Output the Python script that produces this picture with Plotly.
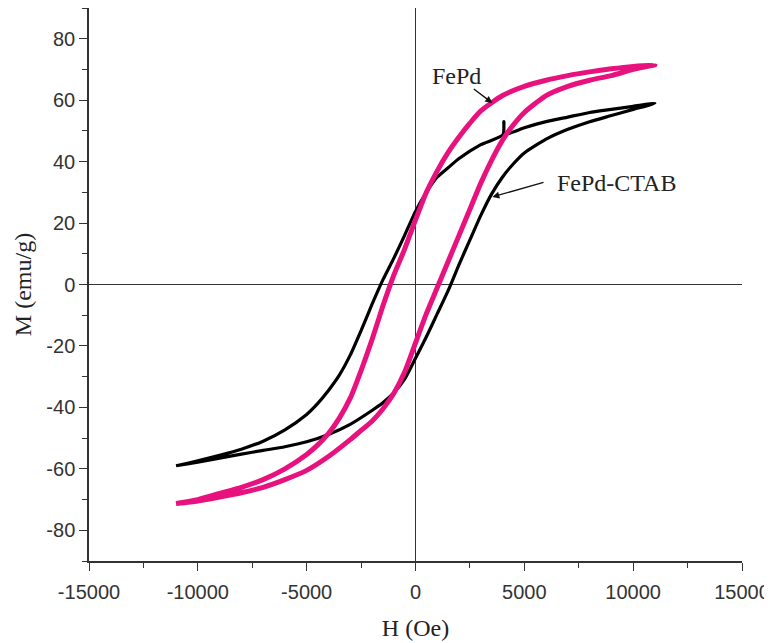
import plotly.graph_objects as go

# ---------------- data ----------------
# FePd (pink) - descending branch, H from +11000 to -11000
fepd_desc_H = [11000, 10000, 9000, 8000, 7000, 6000, 5000, 4000, 3000, 2500, 2000, 1500,
               1000, 500, 0, -500, -1000, -1500, -2000, -2500, -3000, -3500, -4000,
               -4500, -5000, -6000, -7000, -8000, -9000, -10000, -11000]
fepd_desc_M = [71.5, 71, 70.2, 69.2, 68, 66.5, 64.5, 61.5, 56.5, 52.5, 48, 43,
               37, 30, 21, 11.5, 3, -7, -18, -28, -37, -43.5, -48.5,
               -52.3, -55.3, -60, -63.5, -66, -68, -70, -71.3]
# FePd (pink) - ascending branch, H from -11000 to +11000
fepd_asc_H = [-11000, -10000, -9000, -8000, -7000, -6000, -5000, -4000, -3000, -2500, -2000,
              -1500, -1000, -500, 0, 500, 1000, 1500, 2000, 2500, 3000, 3500, 4000,
              4500, 5000, 6000, 7000, 8000, 9000, 10000, 11000]
fepd_asc_M = [-71.3, -70.5, -69.2, -67.8, -66, -63.5, -60.5, -56, -50.5, -47.5, -44.5,
              -40.5, -35.5, -28.5, -19, -9.5, -1, 7.5, 16, 24.5, 33, 40.5, 47,
              52, 56, 61.5, 64.5, 66.5, 68, 70, 71.5]

# FePd-CTAB (black) - descending branch
ctab_desc_H = [11000, 10000, 9000, 8000, 7000, 6000, 5000, 4100, 4060, 4020, 3000, 2000,
               1500, 1000, 500, 0, -500, -1000, -1500, -2000, -2500, -3000, -3500,
               -4000, -4500, -5000, -6000, -7000, -8000, -9000, -10000, -11000]
ctab_desc_M = [59, 58, 57, 56, 54.5, 53, 51, 49, 53, 48.8, 45.5, 41,
               38, 35, 30, 23.8, 16, 8.5, 1.5, -6.5, -15, -23, -29.5,
               -34.5, -38.8, -42.3, -47.3, -51, -53.6, -55.6, -57.4, -59]
# FePd-CTAB (black) - ascending branch
ctab_asc_H = [-11000, -10000, -9000, -8000, -7000, -6000, -5000, -4000, -3000, -2000,
              -1500, -1000, -500, 0, 500, 1000, 1500, 2000, 2500, 3000, 3500, 4000,
              4500, 5000, 6000, 7000, 8000, 9000, 10000, 11000]
ctab_asc_M = [-59, -57.8, -56.5, -55.2, -54, -52.8, -51.2, -48.8, -45.5, -41,
              -38.5, -35.3, -30.8, -24, -17, -9.5, -2, 6.5, 14.5, 22.5, 29.5, 35,
              39.3, 42.8, 47.3, 50.5, 53, 55, 57, 59]

x_tick_vals = [-15000, -10000, -5000, 0, 5000, 10000, 15000]
x_tick_text = ["-15000", "-10000", "-5000", "0", "5000", "10000", "15000"]
y_tick_vals = [-80, -60, -40, -20, 0, 20, 40, 60, 80]
y_tick_text = ["-80", "-60", "-40", "-20", "0", "20", "40", "60", "80"]

PINK = "#e8127f"
BLACK = "#000000"

fig = go.Figure()
fig.add_trace(go.Scatter(x=ctab_desc_H + ctab_asc_H, y=ctab_desc_M + ctab_asc_M,
                         mode="lines", line=dict(color=BLACK, width=3.2, shape="spline", smoothing=0.6),
                         name="FePd-CTAB", showlegend=False))
fig.add_trace(go.Scatter(x=fepd_desc_H + fepd_asc_H, y=fepd_desc_M + fepd_asc_M,
                         mode="lines", line=dict(color=PINK, width=5, shape="spline", smoothing=0.6),
                         name="FePd", showlegend=False))

serif = "Liberation Serif, Times New Roman, serif"
sans = "Liberation Sans, Arial, sans-serif"

# labels
fig.add_annotation(x=1900, y=67.8, text="FePd", showarrow=False,
                   font=dict(family=serif, size=24, color="#222"))
fig.add_annotation(x=9250, y=33.2, text="FePd-CTAB", showarrow=False,
                   font=dict(family=serif, size=24, color="#222"))
# arrows
fig.add_annotation(x=3530, y=59.1, ax=2610, ay=64, axref="x", ayref="y",
                   xref="x", yref="y", text="", showarrow=True,
                   arrowhead=2, arrowsize=1, arrowwidth=1.4, arrowcolor="#111")
fig.add_annotation(x=3530, y=28.5, ax=5950, ay=33.4, axref="x", ayref="y",
                   xref="x", yref="y", text="", showarrow=True,
                   arrowhead=2, arrowsize=1, arrowwidth=1.4, arrowcolor="#111")

axis_common = dict(showgrid=False, showline=True, linecolor="#333", linewidth=1.5,
                   ticks="outside", ticklen=8, tickwidth=1.3, tickcolor="#333",
                   zeroline=True, zerolinecolor="#333", zerolinewidth=1.3,
                   tickfont=dict(family=sans, size=20, color="#333"))

fig.update_xaxes(range=[-15000, 15000], tickmode="array", tickvals=x_tick_vals,
                 ticktext=x_tick_text, ticklabelstandoff=4,
                 minor=dict(dtick=2500, ticks="outside", ticklen=5, tickwidth=1.3, tickcolor="#333"),
                 title=dict(text="H (Oe)", font=dict(family=serif, size=24, color="#222"),
                            standoff=17),
                 **axis_common)
fig.update_yaxes(range=[-90, 90], tickmode="array", tickvals=y_tick_vals,
                 ticktext=y_tick_text,
                 minor=dict(dtick=10, ticks="outside", ticklen=5, tickwidth=1.3, tickcolor="#333"),
                 title=dict(text="M (emu/g)", font=dict(family=serif, size=24, color="#222"),
                            standoff=8),
                 **axis_common)

fig.update_layout(width=764, height=635, plot_bgcolor="white", paper_bgcolor="white",
                  margin=dict(l=81, r=30, t=0, b=82, autoexpand=False))

fig.write_html("out.html")
